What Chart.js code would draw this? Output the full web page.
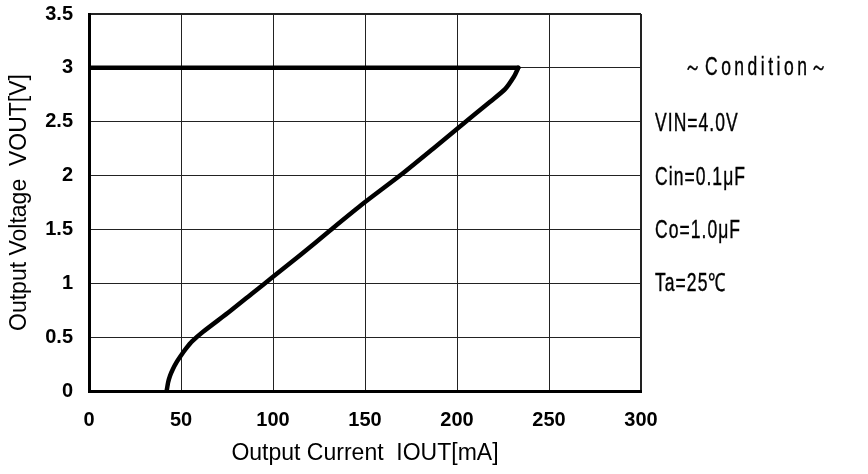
<!DOCTYPE html>
<html>
<head>
<meta charset="utf-8">
<title>Output Voltage vs Output Current</title>
<script src="https://cdn.jsdelivr.net/npm/chart.js@4/dist/chart.umd.min.js"></script>
<style>
  html, body { margin: 0; padding: 0; background: #fff; }
  #box { width: 868px; height: 474px; }
</style>
</head>
<body>
<div id="box"><canvas id="data-set" width="868" height="474"></canvas></div>
<script>
// Flat part of the curve: regulated at 3 V
const flatCurrentMA = [0, 233.3];
const flatVoltageV  = [3.0, 3.0];

// Fold-back part (current goes back down as voltage drops)
const foldCurrentMA = [233.3, 231, 226, 218, 209, 199.8, 187, 169, 149, 131, 114.7, 100, 89, 76.6, 62, 56, 53, 50, 47.7, 45.5, 44, 43, 42.2];
const foldVoltageV  = [3.0, 2.92, 2.80, 2.685, 2.56, 2.43, 2.25, 2.0, 1.74, 1.49, 1.26, 1.06, 0.91, 0.74, 0.55, 0.46, 0.40, 0.33, 0.27, 0.20, 0.14, 0.08, 0.0];

// Axis ticks
const xTicks = [0, 50, 100, 150, 200, 250, 300];
const yTicks = [0, 0.5, 1, 1.5, 2, 2.5, 3, 3.5];

// Text on the right side
const conditionLines = ["～Condition～", "VIN=4.0V", "Cin=0.1μF", "Co=1.0μF", "Ta=25℃"];

function toPoints(xs, ys) {
  return xs.map((x, i) => ({ x: x, y: ys[i] }));
}

const tickFont = { family: "'Liberation Sans', Arial", size: 20, weight: "bold" };
const titleFont = { family: "'Liberation Sans', Arial", size: 23, weight: "normal" };

// Draws the condition block next to the plot (narrowed text like the original)
const conditionPlugin = {
  id: "conditions",
  afterDraw(chart) {
    const ctx = chart.ctx;
    const rows = [68, 124, 178, 231, 284];
    ctx.save();
    ctx.fillStyle = "#000";
    ctx.strokeStyle = "#000";
    ctx.lineWidth = 0.4;
    ctx.font = "25px 'Liberation Sans', Arial";
    ctx.textBaseline = "middle";
    ctx.textAlign = "left";
    conditionLines.forEach((t, i) => {
      ctx.save();
      ctx.letterSpacing = i === 0 ? "5px" : "1.5px";
      ctx.translate(i === 0 ? 684 : 655, rows[i]);
      ctx.scale(0.7, 1);
      ctx.fillText(t, 0, 0);
      ctx.strokeText(t, 0, 0);
      ctx.restore();
    });
    ctx.restore();
  }
};

const lineStyle = {
  showLine: true,
  borderColor: "#000",
  borderWidth: 4.5,
  borderCapStyle: "round",
  borderJoinStyle: "round",
  pointRadius: 0,
  pointHoverRadius: 0
};

const context = document.getElementById("data-set").getContext("2d");

new Chart(context, {
  type: "scatter",
  data: {
    datasets: [
      Object.assign({ label: "flat", data: toPoints(flatCurrentMA, flatVoltageV), tension: 0 }, lineStyle),
      Object.assign({ label: "fold", data: toPoints(foldCurrentMA, foldVoltageV), tension: 0.2 }, lineStyle)
    ]
  },
  options: {
    responsive: false,
    animation: false,
    events: [],
    layout: { padding: { top: 14, right: 227, left: 0, bottom: 0 } },
    plugins: {
      legend: { display: false },
      tooltip: { enabled: false }
    },
    scales: {
      x: {
        type: "linear",
        min: 0,
        max: 300,
        afterBuildTicks: (scale) => { scale.ticks = xTicks.map(v => ({ value: v })); },
        afterFit: (scale) => {
          scale.height = 83;
          scale.paddingLeft = 0;
          scale.paddingRight = 0;
        },
        ticks: { color: "#000", font: tickFont, padding: 17, maxRotation: 0, callback: (v) => String(v) },
        grid: {
          color: "#222",
          lineWidth: (c) => (c.tick && c.tick.value === 300 ? 2 : 1),
          drawTicks: false
        },
        border: { display: true, color: "#000", width: 3 },
        title: {
          display: true,
          text: "Output Current  IOUT[mA]",
          color: "#000",
          font: titleFont,
          padding: { top: 0, bottom: 7 }
        }
      },
      y: {
        type: "linear",
        min: 0,
        max: 3.5,
        afterBuildTicks: (scale) => { scale.ticks = yTicks.map(v => ({ value: v })); },
        afterFit: (scale) => {
          scale.width = 89;
          scale.paddingTop = 0;
          scale.paddingBottom = 0;
        },
        ticks: { color: "#000", font: tickFont, padding: 16, callback: (v) => String(v) },
        grid: {
          color: "#222",
          lineWidth: (c) => (c.tick && c.tick.value === 3.5 ? 2 : 1),
          drawTicks: false
        },
        border: { display: true, color: "#000", width: 3 },
        title: {
          display: true,
          text: "Output Voltage  VOUT[V]",
          color: "#000",
          font: titleFont,
          padding: { top: 6, bottom: 0 }
        }
      }
    }
  },
  plugins: [conditionPlugin]
});
</script>
</body>
</html>
